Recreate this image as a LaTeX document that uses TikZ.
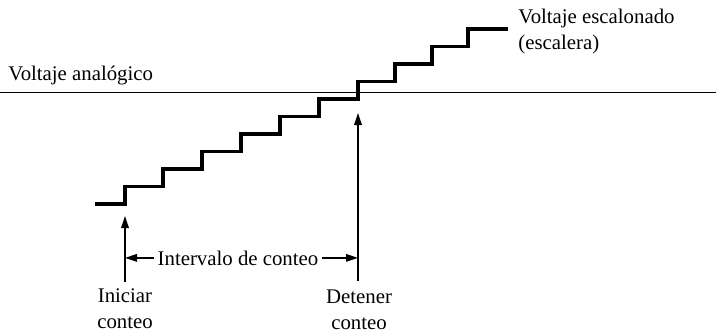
\documentclass[tikz,border=0pt]{standalone}
\usepackage{fontspec}
\setmainfont{Liberation Serif}
\usetikzlibrary{arrows.meta}
\tikzset{
  stair/.style={line width=1.65pt, line join=miter},
  level/.style={line width=0.5pt},
  arr/.style={line width=0.75pt, -{Triangle[length=6pt,width=3.8pt]}},
  lbl/.style={inner sep=0pt, align=center, font=\fontsize{10.4}{13}\selectfont},
}
\begin{document}
\begin{tikzpicture}[x=0.5pt, y=-0.5pt]
\useasboundingbox (0,0) rectangle (716,333);
% analog level
\draw[level] (0,92) -- (716,92);
\node[lbl, anchor=base west] (analog) at (8,80) {Voltaje analógico};
% staircase
\draw[stair] (95,204)
  \foreach \x [count=\n] in {125,163,202,241,280,319,358,395,432,468}
    { -- (\x,{204-17.5*(\n-1)}) -- (\x,{204-17.5*\n}) }
  -- (508,29);
\node[lbl, anchor=base west, align=left] (stairlbl) at (518,49) {Voltaje escalonado\\(escalera)};
% start and stop
\coordinate (iniTip) at (125,216);
\coordinate (stopTip) at (358,113);
\node[lbl, anchor=base] (ini) at (125,328) {Iniciar\\conteo};
\node[lbl, anchor=base] (stop) at (359,329) {Detener\\conteo};
\draw[arr] (ini.north) ++(0,-6) -- (iniTip);
\draw[arr] (stop.north -| stopTip) ++(0,-8) -- (stopTip);
% interval
\node[lbl, anchor=base, inner xsep=1.5pt] (intv) at (238,265) {Intervalo de conteo};
\draw[arr] (intv.west) -- (intv.west -| iniTip);
\draw[arr] (intv.east) -- (intv.east -| stopTip);
\end{tikzpicture}
\end{document}
